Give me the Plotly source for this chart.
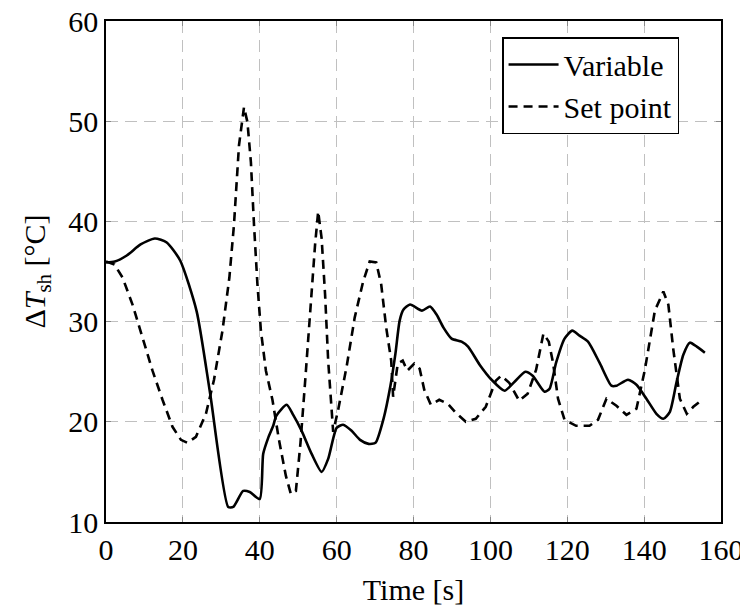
import plotly.graph_objects as go

# Variable (solid)
var_t = [0, 2.3, 5.4, 9.0, 12.7, 15.8, 19.3, 23.6, 27.1, 31.8, 33.1, 35.7, 37.4, 40.0,
         40.9, 42.2, 43.5, 44.3, 47.0, 48.7, 50.9, 53.5, 56.1, 57.8, 60.0, 61.7, 63.9,
         66.1, 68.3, 70.1, 72.2, 74.0, 75.3, 76.4, 77.4, 79.1, 82.2, 84.3, 86.0, 87.8,
         89.9, 92.5, 94.2, 97.2, 100.3, 103.7, 106.3, 109.1, 111.0, 114.1, 115.4, 117.1,
         119.3, 121.3, 123.2, 125.4, 128.4, 131.5, 132.8, 135.8, 138.0, 140.6, 143.2,
         145.0, 146.7, 148.4, 150.2, 151.9, 153.7, 155.8]
var_y = [35.9, 36.0, 36.6, 37.7, 38.3, 37.9, 36.1, 31.0, 22.8, 11.5, 11.5, 13.1, 13.0, 12.3,
         16.8, 18.4, 19.6, 20.6, 21.7, 20.7, 19.1, 16.8, 15.0, 16.3, 19.4, 19.7, 19.1,
         18.2, 17.8, 17.9, 20.3, 23.6, 26.8, 30.1, 31.2, 31.7, 31.1, 31.5, 30.7, 29.4,
         28.3, 28.0, 27.5, 25.7, 24.2, 23.1, 24.0, 25.0, 24.6, 23.0, 23.3, 25.9,
         28.3, 29.1, 28.6, 28.0, 25.9, 23.6, 23.6, 24.2, 23.7, 22.3, 20.8,
         20.3, 21.0, 23.9, 26.7, 27.9, 27.5, 26.9]

# Set point (dashed)
sp_t = [0, 2.2, 4.3, 6.9, 9.5, 12.1, 14.7, 17.3, 19.5, 21.2, 23.4, 26.0, 28.1, 30.3, 32.1,
        33.3, 34.6, 35.9, 36.8, 37.7, 38.5, 39.4, 40.3, 41.6, 43.3, 45.0, 46.8, 48.1, 49.4,
        50.6, 51.9, 53.2, 54.4, 55.2, 56.1, 57.0, 57.8, 58.7, 59.1, 60.4, 62.6, 64.7, 66.9,
        68.6, 70.3, 71.6, 72.9, 74.2, 74.7, 75.9, 77.2, 78.4, 80.2, 81.6, 82.8, 84.5, 86.7,
        88.9, 91.0, 93.6, 96.2, 98.8, 101.4, 102.8, 104.9, 107.5, 109.7, 111.9, 113.8,
        115.2, 116.3, 117.6, 119.3, 122.3, 125.8, 128.0, 130.2, 132.8, 135.4, 138.0,
        140.2, 142.8, 145.0, 146.3, 147.6, 149.3, 151.1, 152.8, 155.4]
sp_y = [36.0, 35.7, 34.4, 31.7, 28.4, 25.1, 22.2, 19.5, 18.2, 17.9, 18.5, 20.8, 24.2, 29.1, 34.4,
        39.7, 47.6, 51.4, 49.9, 45.9, 39.7, 33.7, 29.1, 25.1, 22.2, 18.2, 14.6, 12.8, 13.1,
        17.9, 24.5, 31.7, 37.7, 41.0, 38.3, 32.7, 26.1, 21.2, 19.0, 21.2, 25.5, 30.4, 34.0,
        36.0, 35.9, 33.7, 29.4, 26.1, 22.5, 25.8, 26.1, 25.1, 25.8, 25.3, 23.2, 21.7, 22.2,
        21.8, 20.9, 20.0, 20.3, 21.5, 24.1, 24.6, 23.9, 22.1, 22.8, 25.2, 28.8,
        28.0, 25.9, 22.3, 20.2, 19.6, 19.6, 20.2, 22.3, 21.6, 20.7, 21.3,
        25.2, 31.1, 33.0, 31.7, 27.2, 22.3, 20.8, 21.5, 22.3]

x_ticks = [0, 20, 40, 60, 80, 100, 120, 140, 160]
y_ticks = [10, 20, 30, 40, 50, 60]

FONT = "Liberation Serif"
FS = 30

fig = go.Figure()
fig.add_trace(go.Scatter(x=var_t, y=var_y, mode="lines", name="Variable",
                         line=dict(color="black", width=2.6, shape="spline", smoothing=0.6)))
fig.add_trace(go.Scatter(x=sp_t, y=sp_y, mode="lines", name="Set point",
                         line=dict(color="black", width=2.6, dash="9px,6px")))

axis_common = dict(showline=True, linecolor="black", linewidth=1.5, mirror="ticks",
                   ticks="inside", ticklen=5, tickcolor="#888888", tickwidth=1,
                   showgrid=True, gridcolor="#c0c0c0", gridwidth=1.2, griddash="12px,7px",
                   zeroline=False, automargin=False, ticklabeloverflow="allow",
                   tickfont=dict(family=FONT, size=FS, color="black"))

fig.update_xaxes(range=[0, 160], tickvals=x_ticks, ticktext=[str(v) for v in x_ticks],
                 title=dict(text="Time [s]", font=dict(family=FONT, size=FS, color="black"),
                            standoff=14),
                 **axis_common)
fig.update_yaxes(range=[10, 60], tickvals=y_ticks, ticktext=[str(v) for v in y_ticks],
                 title=dict(text="Δ<i>T</i><sub>sh</sub> [°C]",
                            font=dict(family=FONT, size=FS, color="black"), standoff=14),
                 **axis_common)

# the page body adds an 8px offset, so the figure is sized to fit the window
fig.update_layout(
    width=740, height=608,
    margin=dict(l=98, r=27, t=13, b=94),
    paper_bgcolor="white", plot_bgcolor="white",
    font=dict(family=FONT, size=FS, color="black"),
    showlegend=True,
    legend=dict(x=0.644, y=0.968, xanchor="left", yanchor="top",
                bgcolor="white", bordercolor="black", borderwidth=1.5,
                font=dict(family=FONT, size=FS, color="black"),
                tracegroupgap=0, itemwidth=50),
)

fig.write_html("out.html")
